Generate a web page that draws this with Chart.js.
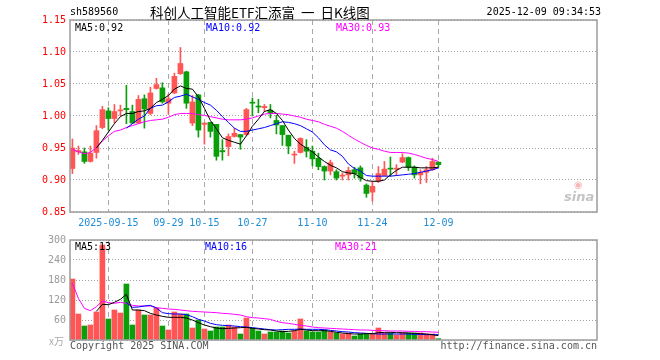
<!DOCTYPE html>
<html>
<head>
<meta charset="utf-8">
<script src="https://cdn.jsdelivr.net/npm/chart.js@4.4.1/dist/chart.umd.min.js"></script>
<style>
    body { margin: 0; background: #fff; }
    #box { position: relative; width: 660px; height: 360px; overflow: hidden;
           font-family: 'DejaVu Sans Mono', monospace; font-size: 10px; }
    canvas { position: absolute; left: 0; }
    .t { position: absolute; white-space: pre; line-height: 12px; }
</style>
</head>
<body>
<div id="box">
    <canvas id="kChart" width="660" height="232" style="top:0"></canvas>
    <canvas id="volChart" width="660" height="130" style="top:230px"></canvas>

    <span class="t" style="left:70px;top:6px;color:#000">sh589560</span>
    <span class="t" style="left:150px;top:3px;line-height:18px;font-family:'Noto Sans CJK SC',sans-serif;font-size:13.5px;color:#000">科创人工智能ETF汇添富  一  日K线图</span>
    <span class="t" style="right:59px;top:6px;color:#000">2025-12-09 09:34:53</span>

    <span class="t" style="left:75px;top:22px;color:#000">MA5:0.92</span>
    <span class="t" style="left:206px;top:22px;color:#0000ff">MA10:0.92</span>
    <span class="t" style="left:336px;top:22px;color:#ff00ff">MA30:0.93</span>

    <span class="t" style="left:75px;top:241px;color:#000">MA5:13</span>
    <span class="t" style="left:205px;top:241px;color:#0000ff">MA10:16</span>
    <span class="t" style="left:335px;top:241px;color:#ff00ff">MA30:21</span>

    <span class="t" style="left:49px;top:335px;color:#aaa;font-family:'Noto Sans CJK SC',sans-serif;font-size:10px">x万</span>
    <span class="t" style="left:70px;top:340px;color:#555">Copyright 2025 SINA.COM</span>
    <span class="t" style="right:63px;top:340px;color:#555">http://finance.sina.com.cn</span>
    <span class="t" style="left:574px;top:180px;line-height:10px;color:#f6b8b8;font-family:'DejaVu Sans',sans-serif;font-size:10px">◉</span>
    <span class="t" style="left:564px;top:190px;line-height:14px;color:#c4c4c4;font-family:'DejaVu Sans',sans-serif;font-size:13px;font-style:italic;font-weight:bold">sina</span>
</div>

<script>
// Даты торговых дней (2025)
const dates = [
    '09-05', '09-08', '09-09', '09-10', '09-11', '09-12', '09-15', '09-16', '09-17', '09-18',
    '09-19', '09-22', '09-23', '09-24', '09-25', '09-26', '09-29', '09-30', '10-09', '10-10',
    '10-13', '10-14', '10-15', '10-16', '10-17', '10-20', '10-21', '10-22', '10-23', '10-24',
    '10-27', '10-28', '10-29', '10-30', '10-31', '11-03', '11-04', '11-05', '11-06', '11-07',
    '11-10', '11-11', '11-12', '11-13', '11-14', '11-17', '11-18', '11-19', '11-20', '11-21',
    '11-24', '11-25', '11-26', '11-27', '11-28', '12-01', '12-02', '12-03', '12-04', '12-05',
    '12-08', '12-09'
];

// Подписи оси X
const tickDates = ['09-15', '09-29', '10-15', '10-27', '11-10', '11-24', '12-09'];
const tickTexts = ['2025-09-15', '09-29', '10-15', '10-27', '11-10', '11-24', '12-09'];
const priceTicks = [0.85, 0.90, 0.95, 1.00, 1.05, 1.10, 1.15];
const volTicks = [0, 60, 120, 180, 240, 300];

// Цены
const openP = [
    0.918, 0.944, 0.944, 0.929, 0.943, 0.982, 1.008, 0.996, 1.008, 1.012,
    1.007, 0.989, 1.027, 1.004, 1.043, 1.044, 1.020, 1.036, 1.066, 1.069,
    0.989, 1.033, 0.987, 0.990, 0.987, 0.946, 0.952, 0.968, 0.971, 0.971,
    1.021, 1.015, 1.013, 1.009, 0.993, 0.985, 0.970, 0.939, 0.943, 0.951,
    0.945, 0.934, 0.921, 0.914, 0.913, 0.906, 0.908, 0.916, 0.919, 0.892,
    0.881, 0.898, 0.907, 0.918, 0.917, 0.928, 0.935, 0.920, 0.908, 0.912,
    0.916, 0.928
];
const highP = [
    0.964, 0.953, 0.950, 0.953, 0.985, 1.015, 1.013, 1.018, 1.017, 1.048,
    1.017, 1.032, 1.033, 1.045, 1.059, 1.052, 1.034, 1.067, 1.107, 1.070,
    1.032, 1.034, 0.989, 0.990, 0.987, 0.963, 0.972, 0.981, 0.971, 1.012,
    1.028, 1.026, 1.018, 1.018, 1.001, 0.985, 0.970, 0.945, 0.966, 0.963,
    0.953, 0.942, 0.922, 0.931, 0.916, 0.911, 0.920, 0.920, 0.922, 0.894,
    0.898, 0.921, 0.929, 0.936, 0.924, 0.941, 0.936, 0.922, 0.916, 0.921,
    0.934, 0.928
];
const lowP = [
    0.910, 0.940, 0.926, 0.928, 0.934, 0.980, 0.978, 0.989, 1.000, 0.988,
    0.988, 0.988, 0.981, 1.002, 1.042, 1.020, 1.003, 1.035, 1.065, 1.012,
    0.985, 0.967, 0.956, 0.967, 0.931, 0.931, 0.938, 0.967, 0.948, 0.969,
    1.000, 1.005, 1.007, 0.997, 0.972, 0.954, 0.941, 0.926, 0.942, 0.936,
    0.922, 0.916, 0.900, 0.908, 0.900, 0.900, 0.900, 0.903, 0.898, 0.873,
    0.867, 0.896, 0.906, 0.906, 0.907, 0.927, 0.915, 0.903, 0.894, 0.896,
    0.915, 0.920
];
const closeP = [
    0.950, 0.946, 0.929, 0.942, 0.977, 1.010, 0.996, 1.007, 1.009, 1.010,
    0.989, 1.026, 1.011, 1.036, 1.049, 1.022, 1.027, 1.062, 1.082, 1.020,
    1.022, 0.978, 0.989, 0.976, 0.937, 0.944, 0.968, 0.973, 0.967, 1.010,
    1.020, 1.014, 1.015, 1.005, 0.986, 0.971, 0.953, 0.940, 0.965, 0.945,
    0.933, 0.921, 0.914, 0.927, 0.903, 0.907, 0.915, 0.910, 0.903, 0.879,
    0.890, 0.910, 0.917, 0.917, 0.918, 0.935, 0.920, 0.908, 0.912, 0.916,
    0.929, 0.924
];

// Скользящие средние цены
const ma5 = [
    null, null, null, null, 0.950, 0.962, 0.975, 0.988, 0.999, 1.004,
    1.004, 1.007, 1.008, 1.012, 1.021, 1.026, 1.032, 1.042, 1.047, 1.043,
    1.042, 1.030, 1.012, 0.993, 0.980, 0.966, 0.962, 0.959, 0.956, 0.969,
    0.984, 0.995, 1.007, 1.010, 1.004, 0.993, 0.978, 0.965, 0.956, 0.950,
    0.944, 0.936, 0.929, 0.923, 0.919, 0.913, 0.911, 0.910, 0.904, 0.899,
    0.898, 0.898, 0.900, 0.908, 0.915, 0.920, 0.920, 0.920, 0.919, 0.919,
    0.919, 0.920
];
const ma10 = [
    null, null, null, null, null, null, null, null, null, 0.981,
    0.988, 0.995, 1.000, 1.012, 1.016, 1.017, 1.022, 1.029, 1.031, 1.034,
    1.030, 1.026, 1.021, 1.017, 1.009, 0.999, 0.990, 0.981, 0.976, 0.976,
    0.978, 0.980, 0.982, 0.985, 0.988, 0.991, 0.990, 0.988, 0.985, 0.980,
    0.975, 0.966, 0.955, 0.947, 0.944, 0.937, 0.925, 0.918, 0.914, 0.907,
    0.906, 0.906, 0.906, 0.906, 0.907, 0.908, 0.909, 0.910, 0.912, 0.914,
    0.916, 0.919
];
const ma30 = [
    0.948, 0.944, 0.941, 0.943, 0.951, 0.961, 0.969, 0.976, 0.978, 0.982,
    0.985, 0.988, 0.991, 0.993, 0.994, 0.995, 0.998, 1.002, 1.004, 1.004,
    1.004, 1.002, 1.001, 0.999, 0.997, 0.995, 0.994, 0.994, 0.994, 0.995,
    0.997, 1.000, 1.003, 1.004, 1.004, 1.003, 1.002, 1.000, 0.998, 0.995,
    0.993, 0.991, 0.987, 0.984, 0.981, 0.976, 0.970, 0.964, 0.959, 0.954,
    0.950, 0.948, 0.945, 0.943, 0.943, 0.943, 0.942, 0.940, 0.937, 0.934,
    0.932, 0.929
];

// Объём (x万)
const volume = [
    183, 78, 42, 45, 84, 285, 63, 90, 81, 168,
    45, 90, 75, 75, 96, 42, 30, 84, 78, 78,
    36, 60, 33, 27, 39, 39, 45, 39, 18, 66,
    36, 27, 18, 24, 24, 27, 21, 27, 63, 27,
    24, 24, 30, 24, 21, 18, 21, 12, 18, 18,
    18, 36, 21, 21, 15, 21, 21, 21, 21, 18,
    18, 4
];
const volMa5 = [
    null, null, null, null, 86, 107, 106, 113, 122, 137,
    90, 90, 88, 80, 75, 71, 68, 68, 68, 66,
    60, 52, 45, 40, 36, 34, 35, 36, 37, 38,
    35, 33, 31, 30, 27, 25, 26, 28, 32, 30,
    28, 28, 28, 26, 23, 21, 19, 18, 18, 19,
    19, 22, 23, 23, 22, 22, 21, 20, 19, 18,
    16, 13
];
const volMa10 = [
    null, null, null, null, null, null, null, null, null, 112,
    98, 99, 102, 104, 96, 82, 79, 78, 78, 76,
    70, 62, 57, 50, 46, 44, 43, 42, 40, 39,
    37, 35, 33, 31, 30, 31, 32, 32, 33, 32,
    32, 32, 31, 29, 27, 25, 24, 22, 21, 20,
    19, 18, 18, 18, 18, 18, 18, 17, 17, 16,
    16, 16
];
const volMa30 = [
    170, 125, 95, 88, 100, 117, 112, 110, 113, 110,
    104, 102, 102, 102, 97, 95, 93, 92, 90, 88,
    86, 85, 84, 83, 82, 80, 79, 77, 75, 70,
    67, 66, 64, 62, 56, 52, 50, 47, 44, 42,
    39, 37, 36, 35, 34, 33, 32, 31, 30, 30,
    29, 28, 28, 27, 27, 27, 26, 26, 25, 25,
    24, 23
];

const RED = '#ff5555';
const GREEN = '#0a9e0a';
const SLOTS = 87.83; // число мест под свечи по ширине поля

document.addEventListener('DOMContentLoaded', () => {
    initializeCharts();
});

// Рамка вокруг области графика
const framePlugin = {
    id: 'frame',
    afterDatasetsDraw(chart) {
        const { ctx, chartArea: a } = chart;
        ctx.save();
        ctx.strokeStyle = '#9c9c9c';
        ctx.lineWidth = 1.5;
        ctx.strokeRect(a.left, a.top, a.right - a.left, a.bottom - a.top);
        ctx.restore();
    }
};

function points(arr) {
    return arr.map((v, i) => ({ x: i, y: v }));
}

function maLine(arr, color) {
    return {
        type: 'line',
        data: points(arr),
        borderColor: color,
        borderWidth: 1,
        pointRadius: 0,
        fill: false,
        tension: 0,
        order: 0
    };
}

function xScale(showLabels) {
    const tickIdx = tickDates.map(d => dates.indexOf(d));
    return {
        type: 'linear',
        min: -0.4,
        max: SLOTS - 0.4,
        offset: false,
        afterBuildTicks: s => { s.ticks = tickIdx.map(v => ({ value: v })); },
        afterFit: s => { s.height = 20; },
        grid: { display: true, offset: false, color: '#a8a8a8', lineWidth: 1, drawTicks: false },
        border: { display: false, dash: [5, 4] },
        ticks: {
            display: showLabels,
            autoSkip: false,
            maxRotation: 0,
            padding: 5,
            color: '#1f8dd6',
            font: { family: 'DejaVu Sans Mono', size: 10 },
            callback: (v, i) => tickTexts[i]
        }
    };
}

function yGrid() {
    return { color: '#a0a0a0', lineWidth: 1, drawTicks: false };
}

function initializeCharts() {
    const up = openP.map((o, i) => closeP[i] >= o);
    const colors = up.map(u => (u ? RED : GREEN));

    // Свечной график
    new Chart(document.getElementById('kChart'), {
        type: 'bar',
        data: {
            datasets: [
                maLine(ma5, '#000000'),
                maLine(ma10, '#0000ff'),
                maLine(ma30, '#ff00ff'),
                {
                    // тела свечей
                    data: openP.map((o, i) => ({ x: i, y: [o, closeP[i]] })),
                    backgroundColor: colors,
                    barThickness: 5,
                    minBarLength: 1,
                    grouped: false,
                    order: 1
                },
                {
                    // тени
                    data: lowP.map((l, i) => ({ x: i, y: [l, highP[i]] })),
                    backgroundColor: colors,
                    barThickness: 1,
                    grouped: false,
                    order: 2
                }
            ]
        },
        options: {
            responsive: false,
            animation: false,
            devicePixelRatio: 1,
            layout: { padding: { top: 20, right: 63, left: 0, bottom: 0 } },
            plugins: { legend: { display: false }, tooltip: { enabled: false } },
            scales: {
                x: xScale(true),
                y: {
                    min: 0.85,
                    max: 1.15,
                    afterBuildTicks: s => { s.ticks = priceTicks.map(v => ({ value: v })); },
                    afterFit: s => { s.width = 70; },
                    grid: yGrid(),
                    border: { display: false, dash: [1, 2] },
                    ticks: {
                        padding: 4,
                        color: '#ff0000',
                        font: { family: 'DejaVu Sans Mono', size: 10 },
                        callback: v => v.toFixed(2)
                    }
                }
            }
        },
        plugins: [framePlugin]
    });

    // Объём торгов
    new Chart(document.getElementById('volChart'), {
        type: 'bar',
        data: {
            datasets: [
                maLine(volMa5, '#000000'),
                maLine(volMa10, '#0000ff'),
                maLine(volMa30, '#ff00ff'),
                {
                    data: points(volume),
                    backgroundColor: colors,
                    barThickness: 5,
                    grouped: false,
                    order: 1
                }
            ]
        },
        options: {
            responsive: false,
            animation: false,
            devicePixelRatio: 1,
            layout: { padding: { top: 10, right: 63, left: 0, bottom: 0 } },
            plugins: { legend: { display: false }, tooltip: { enabled: false } },
            scales: {
                x: xScale(false),
                y: {
                    min: 0,
                    max: 300,
                    afterBuildTicks: s => { s.ticks = volTicks.map(v => ({ value: v })); },
                    afterFit: s => { s.width = 70; },
                    grid: yGrid(),
                    border: { display: false, dash: [1, 2] },
                    ticks: {
                        padding: 4,
                        color: '#9a9a9a',
                        font: { family: 'DejaVu Sans Mono', size: 10 },
                        callback: v => (v === 0 ? '' : v)
                    }
                }
            }
        },
        plugins: [framePlugin]
    });
}
</script>
</body>
</html>
